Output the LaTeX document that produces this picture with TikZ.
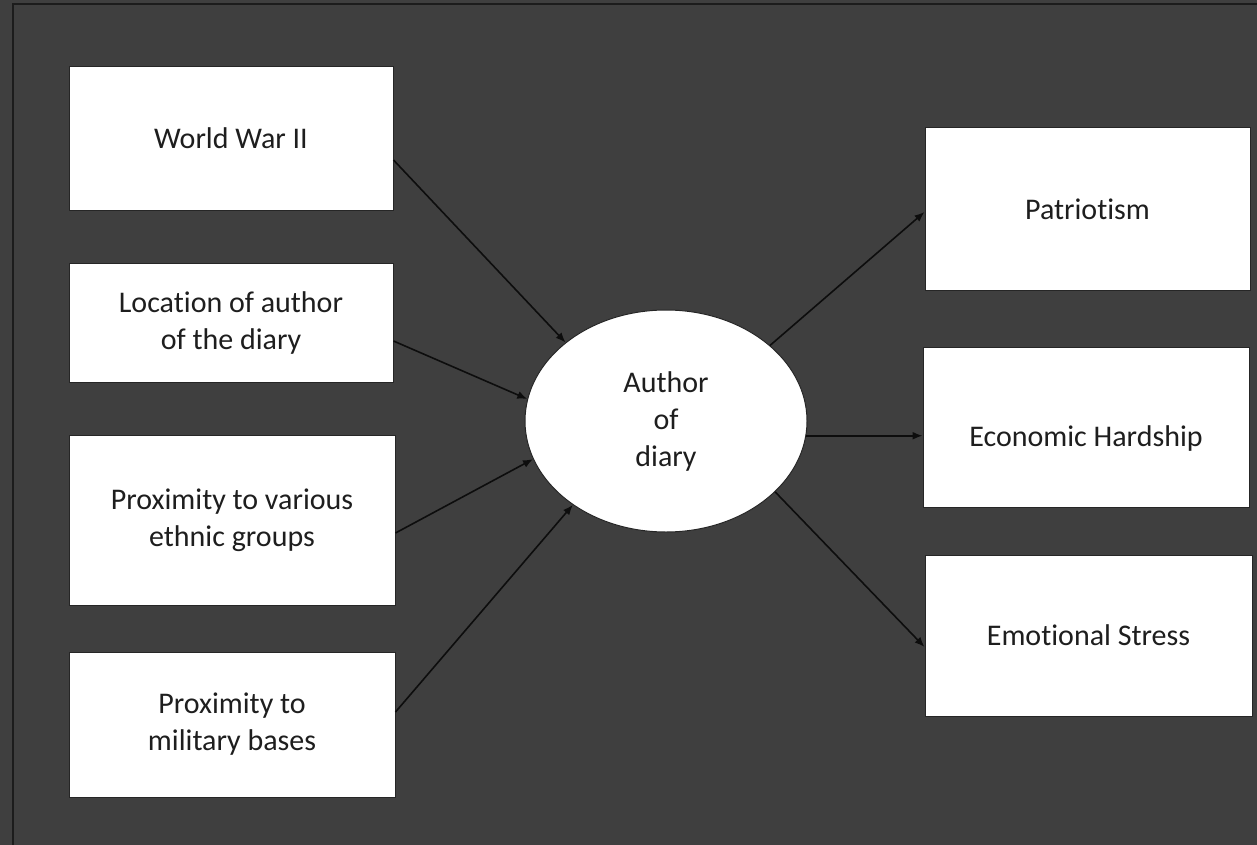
\documentclass[tikz,border=0pt]{standalone}
\usepackage{fontspec}
\setmainfont{Carlito}[Ligatures={NoCommon,NoContextual},Contextuals=NoAlternate]
\usetikzlibrary{shapes.geometric,arrows.meta}
\definecolor{bg}{HTML}{3F3F3F}
\definecolor{frameline}{HTML}{1C1C1C}
\definecolor{txt}{HTML}{1E1E1E}
\begin{document}
\begin{tikzpicture}[x=1pt,y=-1pt,
  box/.style={draw=black!85, line width=1pt, fill=white, inner sep=0pt, align=center,
    text=txt, font=\fontsize{30}{37}\selectfont},
  txtlabel/.style={text=txt, font=\fontsize{30}{37}\selectfont, inner sep=0pt},
  hub/.style={ellipse, draw=black!85, line width=1pt, fill=white, inner sep=0pt, align=center,
    text=txt, font=\fontsize{30}{37}\selectfont, minimum width=282pt, minimum height=222pt},
  conn/.style={draw=black!95, line width=1.6pt, -{Latex[length=10pt,width=8pt]}}]
\useasboundingbox (0,0) rectangle (1257,845);
\fill[bg] (0,0) rectangle (1257,845);
\draw[frameline, line width=2pt] (12.5,845) -- (12.5,4.5) -- (1257,4.5);

% left boxes
\node[box, minimum width=324pt, minimum height=143pt] (wwii) at (231,138.5) {World War II};
\node[box, minimum width=324pt, minimum height=119pt] (loc) at (231,322.5) {Location of author\\of the diary};
\node[box, minimum width=326pt, minimum height=170pt] (eth) at (232,520) {Proximity to various\\ethnic groups};
\node[box, minimum width=326pt, minimum height=145pt] (mil) at (232,724.5) {Proximity to\\military bases};

% hub
\node[hub] (author) at (666,421) {Author\\of\\diary};

% right boxes
\node[box, minimum width=325pt, minimum height=162pt] (pat) at (1087.5,209) {Patriotism};
\node[box, minimum width=326pt, minimum height=160pt,
  label={[txtlabel, yshift=-11pt]center:Economic Hardship}] (eco) at (1086,427) {};
\node[box, minimum width=327pt, minimum height=161pt] (emo) at (1088.5,635.5) {Emotional Stress};

% connectors
\draw[conn] ([yshift=-21.5pt]wwii.east) -- (author.142);
\draw[conn] ([yshift=-18.5pt]loc.east) -- (author.171.6);
\draw[conn] ([yshift=-13pt]eth.east) -- (author.196.9);
\draw[conn] ([yshift=12.5pt]mil.east) -- (author.222.2);
\draw[conn] (author.36) -- ([yshift=-3pt]pat.west);
\draw[conn] (author.-6) -- (author.-6 -| eco.west);
\draw[conn] (author.-33) -- ([yshift=-11.5pt]emo.west);
\end{tikzpicture}
\end{document}
